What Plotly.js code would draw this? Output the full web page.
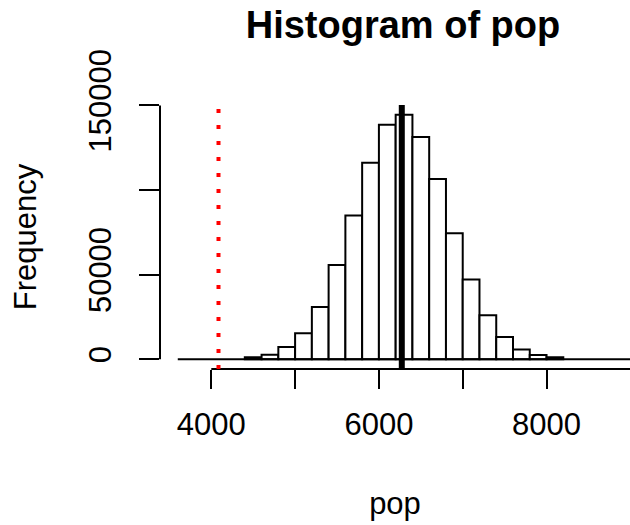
<!DOCTYPE html>
<html>
<head>
<meta charset="utf-8">
<script src="https://cdn.plot.ly/plotly-3.0.1.min.js"></script>
<style>html,body{margin:0;padding:0;background:#fff;overflow:hidden}</style>
</head>
<body>
<div id="chart" style="width:630px;height:525px"></div>
<script>
// Histogram bins (left edges) and counts
const binStart = 4400;
const binWidth = 200;
const counts = [1200, 2600, 7200, 15300, 30900, 55700, 85000, 116100, 138600, 144500,
                131300, 106500, 74400, 47200, 26000, 13200, 5800, 2500, 1200];
// full range of histogram breaks (zero-count bins drawn as flat baseline)
const breakRange = [3600, 9200];
// reference lines
const meanPop = 6273;
const threshold = 4086;
// axis ticks
const xTickVals = [4000, 5000, 6000, 7000, 8000, 9000];
const xTickText = ["4000", "", "6000", "", "8000", ""];
const yTickVals = [0, 50000, 100000, 150000];
const yTickText = ["0", "50000", "", "150000"];

const centers = counts.map((c, i) => binStart + binWidth * (i + 0.5));

const FONT = "Liberation Sans, Arial, sans-serif";

const traces = [
  {
    type: "scatter", mode: "lines",
    x: breakRange, y: [0, 0],
    line: {color: "black", width: 2},
    hoverinfo: "skip", showlegend: false
  },
  {
    type: "bar",
    x: centers, y: counts, width: binWidth,
    marker: {color: "white", line: {color: "black", width: 2}},
    showlegend: false
  }
];

const yMax = Math.max(...counts);
const yPad = yMax * 0.04;

const layout = {
  width: 630, height: 525,
  margin: {l: 160, r: 0, t: 105, b: 156},
  paper_bgcolor: "white", plot_bgcolor: "white",
  font: {family: FONT, color: "black", size: 31},
  showlegend: false,
  title: {
    text: "Histogram of pop",
    font: {family: FONT, size: 38, weight: "bold", color: "black"},
    xref: "paper", x: 0.517, xanchor: "center",
    yref: "container", y: 0.978, yanchor: "top"
  },
  xaxis: {
    range: [3388, 8996],
    showgrid: false, zeroline: false, showline: false,
    tickmode: "array", tickvals: xTickVals, ticktext: xTickText,
    ticks: "outside", ticklen: 19, tickwidth: 2, tickcolor: "black",
    ticklabelstandoff: 9,
    tickfont: {family: FONT, size: 31, color: "black"},
    title: {text: "pop", font: {family: FONT, size: 31, color: "black"}, standoff: 51}
  },
  yaxis: {
    range: [-yPad, yMax + yPad],
    showgrid: false, zeroline: false, showline: false,
    tickmode: "array", tickvals: yTickVals, ticktext: yTickText,
    tickangle: -90,
    ticks: "outside", ticklen: 20, tickwidth: 2, tickcolor: "black",
    ticklabelstandoff: 16,
    tickfont: {family: FONT, size: 31, color: "black"},
    title: {text: "Frequency", font: {family: FONT, size: 31, color: "black"}, standoff: 36}
  },
  shapes: [
    {type: "line", xref: "x", yref: "paper", x0: xTickVals[0], x1: xTickVals[xTickVals.length - 1], y0: 0, y1: 0,
     line: {color: "black", width: 2}},
    {type: "line", xref: "paper", yref: "y", x0: 0, x1: 0, y0: yTickVals[0], y1: yTickVals[yTickVals.length - 1],
     line: {color: "black", width: 2}},
    {type: "line", xref: "x", yref: "paper", x0: meanPop, x1: meanPop, y0: 0, y1: 1,
     line: {color: "black", width: 6}},
    {type: "line", xref: "x", yref: "paper", x0: threshold, x1: threshold, y0: 0, y1: 1,
     line: {color: "red", width: 4, dash: "4px,12px"}}
  ]
};

Plotly.newPlot("chart", traces, layout, {displayModeBar: false, staticPlot: true});
</script>
</body>
</html>
